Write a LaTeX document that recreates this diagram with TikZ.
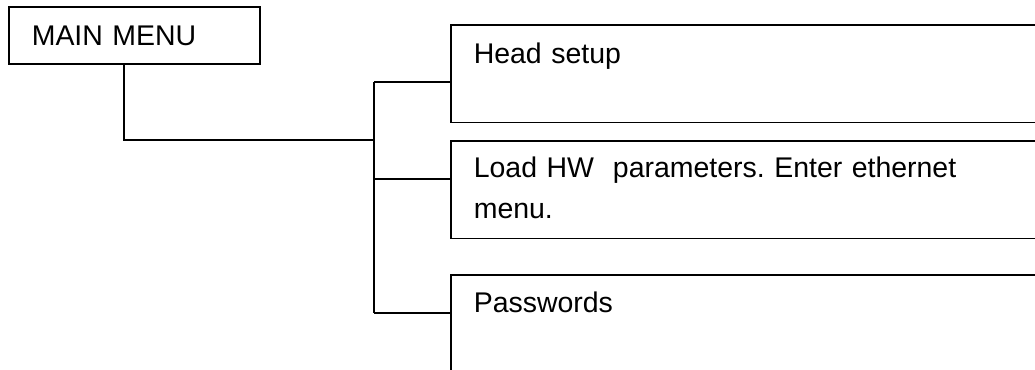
\documentclass[tikz,border=0pt]{standalone}
\usepackage{fontspec}
\setmainfont{Liberation Sans}
\usetikzlibrary{positioning}
\frenchspacing

\begin{document}
\begin{tikzpicture}[x=0.02cm, y=-0.02cm, line width=0.9pt,
  menubox/.style={rectangle, inner sep=0pt, anchor=north west},
  menutext/.style={inner sep=0pt, anchor=base west, text width=12cm, align=left,
    font=\fontsize{16.2pt}{23.4pt}\selectfont}]

% --- page frame ---
\useasboundingbox (0,0) rectangle (1035,369);

% --- root box ---
\node[menubox, draw, minimum width=5.02cm, minimum height=1.14cm] (main) at (8,6) {};
\node[menutext, text width=4cm] (maintxt) at (31,45) {MAIN MENU};

% --- sub menu boxes (run off the right edge) ---
\node[menubox, minimum width=12cm, minimum height=1.92cm] (head) at (451,25) {};
\node[menubox, minimum width=12cm, minimum height=1.92cm] (load) at (451,141) {};
\node[menubox, minimum width=12cm, minimum height=2.5cm] (pass) at (451,275) {};
\foreach \b in {head, load, pass}
  \draw (\b.north east) -- (\b.north west) -- (\b.south west) -- (\b.south east);

\node[menutext] (headtxt) at (473,63) {Head setup};
\node[menutext] (loadtxt) at (473,177) {Load HW\ \ parameters. Enter ethernet\\menu.};
\node[menutext] (passtxt) at (473,312) {Passwords};

% --- tree lines ---
\coordinate (root) at (124,140);
\coordinate (j1) at (374,82);
\coordinate (j2) at (374,179);
\coordinate (j3) at (374,313);

\draw (root |- main.south) -- (root) -- (root -| j1);
\draw (j1) -- (j3);
\draw (j1) -- (j1 -| head.west);
\draw (j2) -- (j2 -| load.west);
\draw (j3) -- (j3 -| pass.west);
\end{tikzpicture}
\end{document}
